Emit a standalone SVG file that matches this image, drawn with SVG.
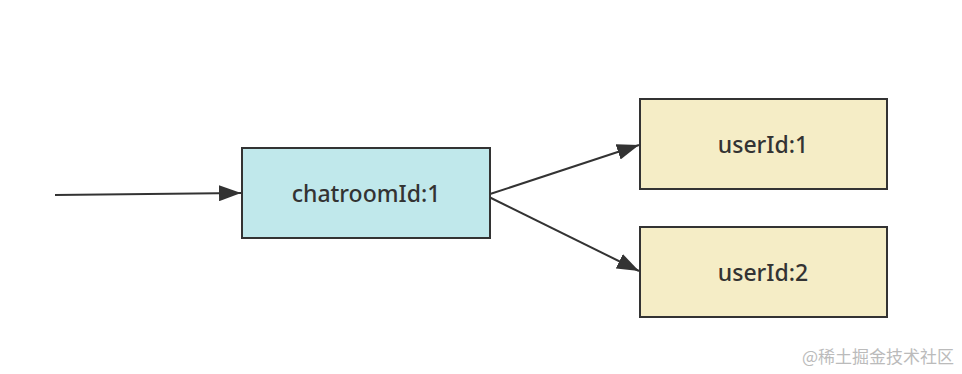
<svg xmlns="http://www.w3.org/2000/svg" width="962" height="374" viewBox="0 0 962 374">
<style>
.box{stroke:#333;stroke-width:2}
.lbl{font-family:"Noto Sans","Liberation Sans",sans-serif;font-size:23px;font-weight:500;fill:#333;text-anchor:middle;dominant-baseline:central}
.edge{stroke:#333;stroke-width:2;fill:none}
.wm{font-family:"Noto Sans CJK SC","Noto Sans",sans-serif;font-size:17px;fill:#bbb}
</style>
<defs>
<marker id="ah" viewBox="0 0 22 16" refX="22" refY="8" markerWidth="22" markerHeight="16" markerUnits="userSpaceOnUse" orient="auto">
<path d="M0,0 L22,8 L0,16 z" fill="#333"/>
</marker>
</defs>
<rect width="962" height="374" fill="#fff"/>
<g id="edges">
<path class="edge" d="M55,195 L241,193" marker-end="url(#ah)"/>
<path class="edge" d="M487,195 L639,145" marker-end="url(#ah)"/>
<path class="edge" d="M487,196 L639,271" marker-end="url(#ah)"/>
</g>
<g id="chatroom">
<rect class="box" x="242" y="148" width="248" height="90" fill="#c0e8eb"/>
<text class="lbl" x="366" y="193">chatroomId:1</text>
</g>
<g id="user1">
<rect class="box" x="640" y="99" width="247" height="90" fill="#f5edc6"/>
<text class="lbl" x="763" y="144">userId:1</text>
</g>
<g id="user2">
<rect class="box" x="640" y="227" width="247" height="90" fill="#f5edc6"/>
<text class="lbl" x="763" y="272">userId:2</text>
</g>
<text class="wm" x="802" y="363">@稀土掘金技术社区</text>
</svg>
